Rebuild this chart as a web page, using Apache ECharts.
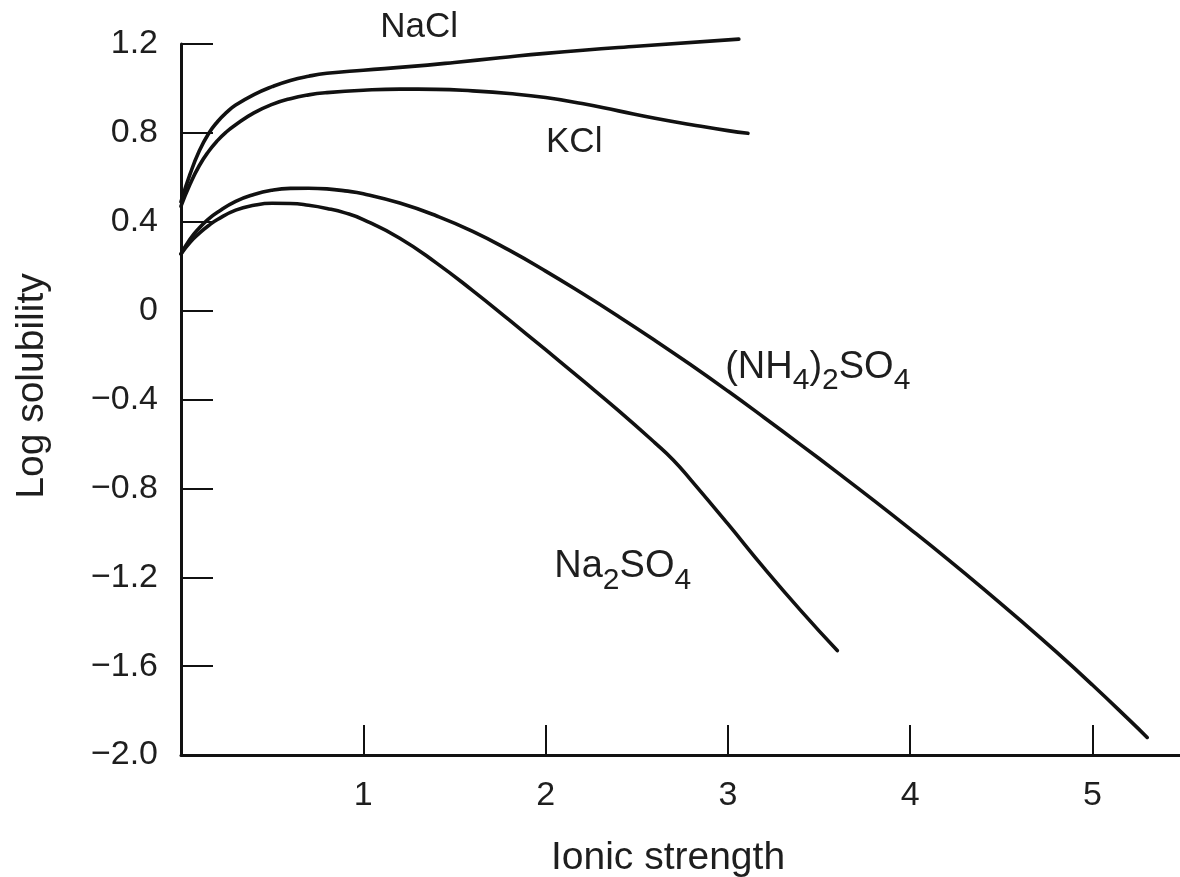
<!DOCTYPE html>
<html>
<head>
<meta charset="utf-8">
<script src="https://cdn.jsdelivr.net/npm/echarts@6/dist/echarts.min.js"></script>
<style>
html,body{margin:0;padding:0;background:#fff;}
#c{width:1180px;height:877px;}
</style>
</head>
<body>
<div id="c"></div>
<script>
// ---- data ----
const xTickValues = [1, 2, 3, 4, 5];
const yTickValues = [-2.0, -1.6, -1.2, -0.8, -0.4, 0, 0.4, 0.8, 1.2];

const nacl = [[0,0.49],[0.05,0.615],[0.1,0.718],[0.15,0.795],[0.2,0.85],[0.25,0.892],[0.3,0.925],[0.4,0.972],[0.5,1.008],[0.6,1.036],[0.7,1.055],[0.8,1.068],[1.0,1.082],[1.25,1.098],[1.5,1.117],[1.75,1.138],[2.0,1.158],[2.5,1.19],[3.06,1.222]];
const kcl = [[0,0.47],[0.05,0.57],[0.1,0.652],[0.15,0.715],[0.2,0.765],[0.25,0.805],[0.3,0.837],[0.4,0.89],[0.5,0.928],[0.6,0.954],[0.7,0.971],[0.8,0.981],[1.0,0.992],[1.2,0.997],[1.4,0.996],[1.6,0.989],[1.8,0.977],[2.0,0.959],[2.2,0.932],[2.4,0.899],[2.6,0.866],[2.8,0.837],[3.0,0.81],[3.11,0.798]];
const nh4so4 = [[0,0.255],[0.05,0.322],[0.1,0.372],[0.15,0.412],[0.2,0.443],[0.3,0.492],[0.4,0.523],[0.5,0.542],[0.6,0.55],[0.7,0.551],[0.8,0.548],[0.9,0.539],[1.0,0.526],[1.2,0.484],[1.4,0.427],[1.6,0.357],[1.8,0.272],[2.0,0.178],[2.2,0.078],[2.4,-0.026],[2.6,-0.134],[2.8,-0.246],[3.0,-0.362],[3.2,-0.482],[3.4,-0.604],[3.6,-0.728],[3.8,-0.854],[4.0,-0.983],[4.2,-1.115],[4.4,-1.251],[4.6,-1.391],[4.8,-1.535],[5.0,-1.685],[5.2,-1.841],[5.3,-1.921]];
const na2so4 = [[0,0.255],[0.05,0.308],[0.1,0.348],[0.15,0.382],[0.2,0.41],[0.3,0.452],[0.4,0.474],[0.5,0.483],[0.6,0.482],[0.7,0.474],[0.8,0.46],[0.9,0.44],[1.0,0.41],[1.2,0.326],[1.4,0.215],[1.6,0.09],[1.8,-0.042],[2.0,-0.176],[2.2,-0.312],[2.4,-0.45],[2.6,-0.595],[2.7,-0.672],[2.8,-0.765],[3.0,-0.96],[3.2,-1.16],[3.4,-1.35],[3.6,-1.53]];

const seriesNames = ['NaCl', 'KCl', '(NH4)2SO4', 'Na2SO4'];
const xTitle = 'Ionic strength';
const yTitle = 'Log solubility';

// ---- styling / layout ----
const FONT = "'Liberation Sans', Arial, Helvetica, sans-serif";
const INK = '#111';
const TXT = '#1e1e1e';

const chart = echarts.init(document.getElementById('c'), null, {renderer: 'canvas'});

const fmtY = v => {
  if (Math.abs(v) < 1e-9) return '0';
  return v.toFixed(1).replace('-', '\u2212');
};
const fmtX = v => xTickValues.includes(Math.round(v * 1000) / 1000) ? String(v) : '';

function lineSeries(name, data) {
  return {
    name, type: 'line', data,
    symbol: 'none', showSymbol: false,
    smooth: 0.5, clip: false,
    lineStyle: {color: INK, width: 3.6, cap: 'round', join: 'round'},
    z: 3
  };
}

const option = {
  animation: false,
  backgroundColor: '#fff',
  grid: {left: 181, right: 0, top: 44, bottom: 122, containLabel: false},
  xAxis: {
    type: 'value', min: 0, max: 5.48, interval: 1,
    axisLine: {show: true, onZero: false, lineStyle: {color: INK, width: 3}},
    axisTick: {show: true, inside: true, length: 30, customValues: xTickValues, lineStyle: {color: INK, width: 2}},
    axisLabel: {show: true, margin: 24, fontSize: 34, color: TXT, fontFamily: FONT, customValues: xTickValues, formatter: fmtX},
    splitLine: {show: false}
  },
  yAxis: {
    type: 'value', min: -2, max: 1.2, interval: 0.4,
    axisLine: {show: true, onZero: false, lineStyle: {color: INK, width: 3}},
    axisTick: {show: true, inside: true, length: 32, lineStyle: {color: INK, width: 2}},
    axisLabel: {show: true, margin: 23, fontSize: 34, color: TXT, fontFamily: FONT, formatter: fmtY},
    splitLine: {show: false}
  },
  series: [
    lineSeries(seriesNames[0], nacl),
    lineSeries(seriesNames[1], kcl),
    lineSeries(seriesNames[2], nh4so4),
    lineSeries(seriesNames[3], na2so4)
  ]
};
chart.setOption(option);

// ---- curve labels, anchored in data coordinates ----
const MAIN = 38, SUB = 30, SUB_DROP = 14;
const labelDefs = [
  {parts: [['NaCl', 0]], at: [1.306, 1.277], size: 35},
  {parts: [['KCl', 0]], at: [2.157, 0.759], size: 35},
  {parts: [['(NH', 0], ['4', 1], [')', 0], ['2', 1], ['SO', 0], ['4', 1]], at: [3.493, -0.254], size: MAIN},
  {parts: [['Na', 0], ['2', 1], ['SO', 0], ['4', 1]], at: [2.423, -1.151], size: MAIN}
];
const ctx = document.createElement('canvas').getContext('2d');
const measure = (t, s) => { ctx.font = s + 'px ' + FONT; return ctx.measureText(t).width; };

const graphics = [];
labelDefs.forEach(d => {
  const [cx, cy] = chart.convertToPixel({gridIndex: 0}, d.at);
  const sizes = d.parts.map(p => p[1] ? SUB : d.size);
  const widths = d.parts.map((p, i) => measure(p[0], sizes[i]));
  const total = widths.reduce((a, b) => a + b, 0);
  let x = cx - total / 2;
  d.parts.forEach((p, i) => {
    graphics.push({
      type: 'text', x: x, y: cy + (p[1] ? SUB_DROP : 0), z: 10,
      style: {text: p[0], fill: TXT, fontFamily: FONT, fontSize: sizes[i],
        align: 'left', verticalAlign: 'middle', textAlign: 'left', textVerticalAlign: 'middle'}
    });
    x += widths[i];
  });
});
graphics.push({
  type: 'text', x: 668, y: 858, z: 10,
  style: {text: xTitle, fill: TXT, fontFamily: FONT, fontSize: 39,
    align: 'center', verticalAlign: 'middle', textAlign: 'center', textVerticalAlign: 'middle'}
});
graphics.push({
  type: 'text', x: 32, y: 386, z: 10, rotation: Math.PI / 2,
  style: {text: yTitle, fill: TXT, fontFamily: FONT, fontSize: 39,
    align: 'center', verticalAlign: 'middle', textAlign: 'center', textVerticalAlign: 'middle'}
});
chart.setOption({graphic: graphics});
</script>
</body>
</html>
